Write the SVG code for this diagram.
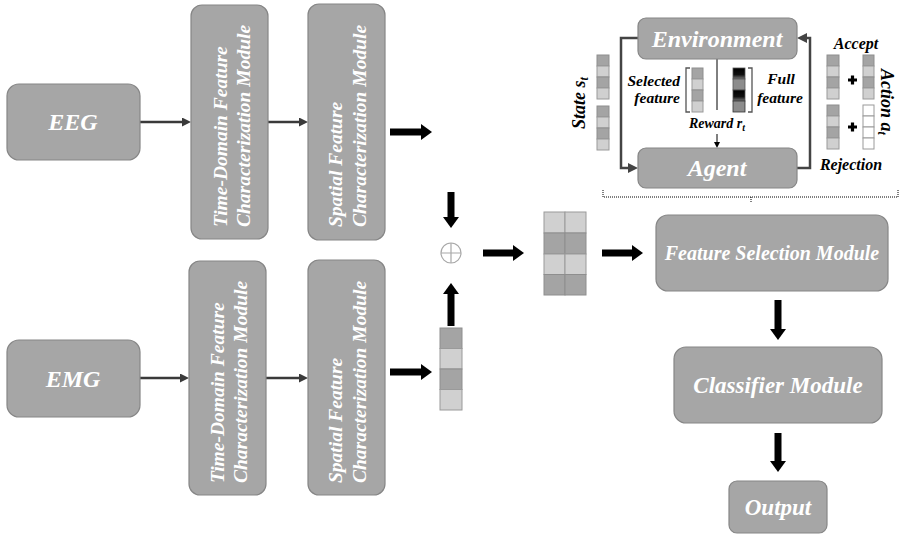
<svg xmlns="http://www.w3.org/2000/svg" width="899" height="537" viewBox="0 0 899 537">
<style>
.box{fill:#a6a6a6;stroke:#868686;stroke-width:1.2}
.t{font-family:'Liberation Serif','Times New Roman',serif;font-weight:700;font-style:italic;fill:#ffffff}
.k{font-family:'Liberation Serif','Times New Roman',serif;font-weight:700;font-style:italic;fill:#000000}
.thin{stroke:#3a3a3a;stroke-width:2.5;fill:none}
.big{stroke:#000;stroke-width:7;fill:none}
.lc{fill:#d0d0d0;stroke:#9a9a9a;stroke-width:1}
.dc{fill:#a4a4a4;stroke:#8e8e8e;stroke-width:1}
.wc{fill:#ffffff;stroke:#9a9a9a;stroke-width:1}
.loop{stroke:#444;stroke-width:2.5;fill:none}
</style>
<defs>
<marker id="bh" markerUnits="userSpaceOnUse" markerWidth="11" markerHeight="16" refX="0" refY="8" orient="auto"><path d="M0,0 L11,8 L0,16 Z" fill="#000"/></marker>
<marker id="sh" markerUnits="userSpaceOnUse" markerWidth="9" markerHeight="9" refX="0" refY="4.5" orient="auto"><path d="M0,0 L9,4.5 L0,9 Z" fill="#3a3a3a"/></marker>
<marker id="lh" markerUnits="userSpaceOnUse" markerWidth="10" markerHeight="10" refX="0" refY="5" orient="auto"><path d="M0,0 L10,5 L0,10 Z" fill="#444"/></marker>
<marker id="th" markerUnits="userSpaceOnUse" markerWidth="6" markerHeight="6" refX="0" refY="3" orient="auto"><path d="M0,0 L6,3 L0,6 Z" fill="#000"/></marker>
<linearGradient id="blk" x1="0" y1="0" x2="0" y2="1"><stop offset="0" stop-color="#000"/><stop offset="0.6" stop-color="#111"/><stop offset="1" stop-color="#777"/></linearGradient>
</defs>

<g id="connectors">
<line class="thin" x1="140" y1="122" x2="182" y2="122" marker-end="url(#sh)"/>
<line class="thin" x1="268" y1="122" x2="299" y2="122" marker-end="url(#sh)"/>
<line class="thin" x1="140" y1="378" x2="180" y2="378" marker-end="url(#sh)"/>
<line class="thin" x1="266" y1="378" x2="299" y2="378" marker-end="url(#sh)"/>
<line class="big" x1="390" y1="132" x2="421" y2="132" marker-end="url(#bh)"/>
<line class="big" x1="390" y1="372" x2="421" y2="372" marker-end="url(#bh)"/>
<line class="big" x1="451" y1="192" x2="451" y2="217" marker-end="url(#bh)"/>
<line class="big" x1="451" y1="326" x2="451" y2="294" marker-end="url(#bh)"/>
<line class="big" x1="483" y1="253" x2="513" y2="253" marker-end="url(#bh)"/>
<line class="big" x1="602" y1="253" x2="632" y2="253" marker-end="url(#bh)"/>
<line class="big" x1="778" y1="300" x2="778" y2="329" marker-end="url(#bh)"/>
<line class="big" x1="778" y1="433" x2="778" y2="461" marker-end="url(#bh)"/>
<path class="loop" d="M638,38 H621 V168 H628" marker-end="url(#lh)"/>
<path class="loop" d="M797,168 H810 V38 H807" marker-end="url(#lh)"/>
<line x1="717" y1="59" x2="717" y2="110" stroke="#000" stroke-width="1"/>
<line x1="717" y1="134" x2="717" y2="142" stroke="#000" stroke-width="1" marker-end="url(#th)"/>
<path d="M603,190 V197 H898 V190 M751,197 V203" fill="none" stroke="#000" stroke-width="1" stroke-dasharray="1,1"/>
</g>

<g id="eeg"><rect class="box" x="7" y="84" width="133" height="76" rx="12"/><text class="t" x="73" y="130" font-size="24" text-anchor="middle">EEG</text></g>
<g id="emg"><rect class="box" x="7" y="340" width="133" height="77" rx="12"/><text class="t" x="73" y="387" font-size="24" text-anchor="middle">EMG</text></g>

<g id="td-top"><rect class="box" x="191" y="5" width="77" height="234" rx="11"/>
<text class="t" font-size="19.5" transform="translate(227,227) rotate(-90)">Time-Domain Feature</text>
<text class="t" font-size="19.5" transform="translate(250,227) rotate(-90)">Characterization Module</text></g>
<g id="sp-top"><rect class="box" x="308" y="4" width="77" height="236" rx="11"/>
<text class="t" font-size="19.5" transform="translate(342,227) rotate(-90)">Spatial Feature</text>
<text class="t" font-size="19.5" transform="translate(366,227) rotate(-90)">Characterization Module</text></g>
<g id="td-bot"><rect class="box" x="189" y="261" width="77" height="234" rx="11"/>
<text class="t" font-size="19.5" transform="translate(224,483) rotate(-90)">Time-Domain Feature</text>
<text class="t" font-size="19.5" transform="translate(247,483) rotate(-90)">Characterization Module</text></g>
<g id="sp-bot"><rect class="box" x="308" y="260" width="77" height="235" rx="11"/>
<text class="t" font-size="19.5" transform="translate(342,483) rotate(-90)">Spatial Feature</text>
<text class="t" font-size="19.5" transform="translate(366,483) rotate(-90)">Characterization Module</text></g>

<g id="emg-feature">
<rect class="dc" x="440" y="328" width="22" height="20.5"/>
<rect class="lc" x="440" y="348.5" width="22" height="20.5"/>
<rect class="dc" x="440" y="369" width="22" height="20.5"/>
<rect class="lc" x="440" y="389.5" width="22" height="20.5"/>
</g>

<g id="oplus"><circle cx="451" cy="253" r="10" fill="none" stroke="#a8a8a8" stroke-width="1.2"/><path d="M441,253 H461 M451,243 V263" stroke="#a8a8a8" stroke-width="1.2"/></g>

<g id="fused-feature">
<rect class="lc" x="544" y="212" width="21" height="21"/><rect class="lc" x="565" y="212" width="21" height="21"/>
<rect class="dc" x="544" y="233" width="21" height="21"/><rect class="dc" x="565" y="233" width="21" height="21"/>
<rect class="lc" x="544" y="254" width="21" height="20.5"/><rect class="lc" x="565" y="254" width="21" height="20.5"/>
<rect class="dc" x="544" y="274.5" width="21" height="20.5"/><rect class="dc" x="565" y="274.5" width="21" height="20.5"/>
</g>

<g id="feature-selection"><rect class="box" x="656" y="215" width="232" height="76" rx="12"/><text class="t" x="772" y="260" font-size="20" text-anchor="middle">Feature Selection Module</text></g>
<g id="classifier"><rect class="box" x="674" y="347" width="208" height="76" rx="12"/><text class="t" x="778" y="393" font-size="23" text-anchor="middle">Classifier Module</text></g>
<g id="output"><rect class="box" x="729" y="481" width="98" height="52" rx="8"/><text class="t" x="778" y="515" font-size="23" text-anchor="middle">Output</text></g>

<g id="environment"><rect class="box" x="638" y="18" width="159" height="41" rx="8"/><text class="t" x="717" y="47" font-size="24" text-anchor="middle">Environment</text></g>
<g id="agent"><rect class="box" x="638" y="148" width="159" height="40" rx="8"/><text class="t" x="717" y="176" font-size="24" text-anchor="middle">Agent</text></g>

<g id="state">
<text class="k" font-size="18" text-anchor="middle" transform="translate(585,103) rotate(-90)">State <tspan>s</tspan><tspan font-size="12" dy="3">t</tspan></text>
<rect class="dc" x="597" y="55" width="12" height="11"/><rect class="lc" x="597" y="66" width="12" height="11"/><rect class="dc" x="597" y="77" width="12" height="11"/><rect class="lc" x="597" y="88" width="12" height="11"/>
<rect class="dc" x="597" y="106" width="12" height="11"/><rect class="lc" x="597" y="117" width="12" height="11"/><rect class="dc" x="597" y="128" width="12" height="11"/><rect class="lc" x="597" y="139" width="12" height="11"/>
</g>

<g id="selected-feature">
<text class="k" x="680" y="86" font-size="15.5" text-anchor="end">Selected</text>
<text class="k" x="680" y="103" font-size="15.5" text-anchor="end">feature</text>
<path d="M690,68 H686 V112 H690" fill="none" stroke="#555" stroke-width="1.3"/>
<rect class="dc" x="692" y="68" width="11" height="11"/><rect class="lc" x="692" y="79" width="11" height="11"/><rect class="dc" x="692" y="90" width="11" height="11"/><rect class="lc" x="692" y="101" width="11" height="11"/>
</g>

<g id="full-feature">
<rect x="733" y="68" width="12" height="11" fill="url(#blk)" stroke="#555" stroke-width="0.8"/>
<rect x="733" y="79" width="12" height="11" fill="#8c8c8c" stroke="#555" stroke-width="0.8"/>
<rect x="733" y="90" width="12" height="11" fill="url(#blk)" stroke="#555" stroke-width="0.8"/>
<rect x="733" y="101" width="12" height="11" fill="#8c8c8c" stroke="#333" stroke-width="0.8"/>
<path d="M748,68 H752 V112 H748" fill="none" stroke="#555" stroke-width="1.3"/>
<text class="k" x="781" y="84" font-size="15.5" text-anchor="middle">Full</text>
<text class="k" x="780" y="103" font-size="15.5" text-anchor="middle">feature</text>
</g>

<g id="reward"><text class="k" x="717" y="128" font-size="14" text-anchor="middle">Reward r<tspan font-size="10" dy="3">t</tspan></text></g>

<g id="action">
<text class="k" x="856" y="49" font-size="16" text-anchor="middle">Accept</text>
<rect class="dc" x="827" y="55" width="12" height="11"/><rect class="lc" x="827" y="66" width="12" height="11"/><rect class="dc" x="827" y="77" width="12" height="11"/><rect class="lc" x="827" y="88" width="12" height="11"/>
<path d="M848,80 H857 M852.5,75.5 V84.5" stroke="#000" stroke-width="3.2"/>
<rect class="dc" x="863" y="55" width="11" height="11"/><rect class="lc" x="863" y="66" width="11" height="11"/><rect class="dc" x="863" y="77" width="11" height="11"/><rect class="lc" x="863" y="88" width="11" height="11"/>
<rect class="dc" x="827" y="105" width="12" height="11"/><rect class="lc" x="827" y="116" width="12" height="11"/><rect class="dc" x="827" y="127" width="12" height="11"/><rect class="lc" x="827" y="138" width="12" height="11"/>
<path d="M848,127 H857 M852.5,122.5 V131.5" stroke="#000" stroke-width="3.2"/>
<rect class="wc" x="863" y="105" width="11" height="11"/><rect class="wc" x="863" y="116" width="11" height="11"/><rect class="wc" x="863" y="127" width="11" height="11"/><rect class="wc" x="863" y="138" width="11" height="11"/>
<text class="k" x="851" y="170" font-size="16" text-anchor="middle">Rejection</text>
<text class="k" font-size="18" text-anchor="middle" transform="translate(881,102) rotate(90)">Action <tspan>a</tspan><tspan font-size="12" dy="3">t</tspan></text>
</g>
</svg>
